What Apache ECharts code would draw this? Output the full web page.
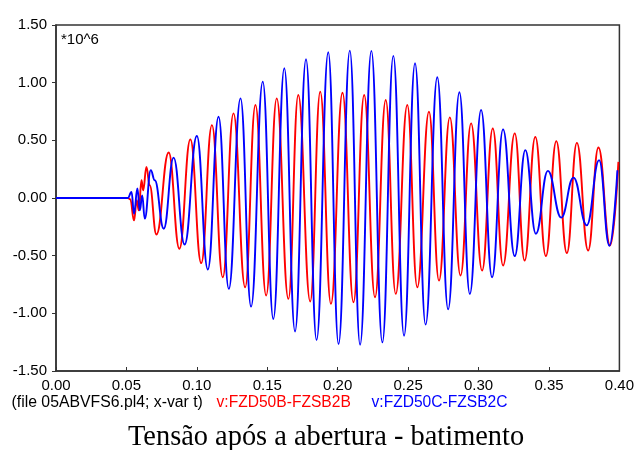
<!DOCTYPE html>
<html>
<head>
<meta charset="utf-8">
<script src="https://cdn.jsdelivr.net/npm/echarts@6/dist/echarts.min.js"></script>
<style>
html,body{margin:0;padding:0;background:#fff;}
#chart{width:637px;height:450px;}
</style>
</head>
<body>
<div id="chart"></div>
<script>
// Time axis ticks (s) and voltage ticks (*10^6 V)
var xTicks = [0.00, 0.05, 0.10, 0.15, 0.20, 0.25, 0.30, 0.35, 0.40];
var yTicks = [-1.50, -1.00, -0.50, 0.00, 0.50, 1.00, 1.50];

// v:FZD50B-FZSB2B (red) — extrema
var redT = [0, 0.0510, 0.0527, 0.0554, 0.0573, 0.0588, 0.0607, 0.0619, 0.0642, 0.0665, 0.0713, 0.0800, 0.0876, 0.0954, 0.1031, 0.1107, 0.1184, 0.1260, 0.1343, 0.1416, 0.1492, 0.1567, 0.1650, 0.1720, 0.1805, 0.1876, 0.1952, 0.2034, 0.2112, 0.2188, 0.2265, 0.2341, 0.2412, 0.2494, 0.2565, 0.2648, 0.2719, 0.2796, 0.2872, 0.2947, 0.3025, 0.3101, 0.3174, 0.3257, 0.3327, 0.3403, 0.3478, 0.3552, 0.3627, 0.3698, 0.3778, 0.3851, 0.3934, 0.3993];
var redV = [0, 0, -0.011, -0.194, -0.020, -0.107, 0.154, 0.067, 0.270, 0.110, -0.316, 0.395, -0.440, 0.508, -0.565, 0.632, -0.687, 0.734, -0.774, 0.806, -0.846, 0.864, -0.875, 0.893, -0.898, 0.922, -0.918, 0.913, -0.904, 0.893, -0.861, 0.850, -0.831, 0.806, -0.774, 0.748, -0.716, 0.699, -0.672, 0.647, -0.629, 0.603, -0.585, 0.560, -0.542, 0.530, -0.504, 0.493, -0.478, 0.478, -0.455, 0.438, -0.411, 0.313];

// v:FZD50C-FZSB2C (blue) — extrema
var blueT = [0, 0.0510, 0.0536, 0.0554, 0.0578, 0.0595, 0.0612, 0.0630, 0.0673, 0.0701, 0.0765, 0.0835, 0.0913, 0.1000, 0.1078, 0.1154, 0.1227, 0.1310, 0.1385, 0.1468, 0.1543, 0.1621, 0.1697, 0.1775, 0.1850, 0.1933, 0.2006, 0.2086, 0.2159, 0.2239, 0.2317, 0.2395, 0.2471, 0.2549, 0.2624, 0.2707, 0.2784, 0.2864, 0.2938, 0.3018, 0.3096, 0.3174, 0.3257, 0.3332, 0.3407, 0.3492, 0.3587, 0.3674, 0.3768, 0.3856, 0.3929, 0.3986];
var blueV = [0, 0, 0.052, -0.136, 0.082, -0.107, 0.023, -0.179, 0.241, 0.154, -0.266, 0.350, -0.403, 0.537, -0.620, 0.704, -0.788, 0.864, -0.942, 1.009, -1.049, 1.125, -1.157, 1.203, -1.231, 1.264, -1.266, 1.278, -1.272, 1.276, -1.252, 1.232, -1.194, 1.169, -1.098, 1.047, -0.966, 0.917, -0.831, 0.763, -0.687, 0.595, -0.504, 0.415, -0.310, 0.235, -0.170, 0.177, -0.237, 0.328, -0.414, 0.241];

var seriesNames = ['v:FZD50B-FZSB2B', 'v:FZD50C-FZSB2C'];
var footerText = '(file 05ABVFS6.pl4; x-var t)';
var titleText = 'Tensão após a abertura - batimento';
var scaleText = '*10^6';

function zip(a, b) { return a.map(function (t, i) { return [t, b[i]]; }); }

var chart = echarts.init(document.getElementById('chart'), null, {renderer: 'canvas'});
var sans = 'Liberation Sans, Arial, sans-serif';
function txt(x, y, s, color, font) {
  return {type: 'text', x: x, y: y, style: {text: s, fill: color, font: font, textVerticalAlign: 'middle', textAlign: 'left'}};
}
chart.setOption({
  animation: false,
  backgroundColor: '#ffffff',
  grid: {left: 56, right: 16, top: 25, bottom: 79, show: true, borderColor: '#333', borderWidth: 1.5, backgroundColor: 'transparent'},
  xAxis: {
    type: 'value', min: xTicks[0], max: xTicks[xTicks.length - 1], interval: 0.05,
    axisLine: {show: true, onZero: false, lineStyle: {color: '#333', width: 1.5}},
    axisTick: {show: true, inside: true, length: 4, lineStyle: {color: '#333'}},
    splitLine: {show: false},
    axisLabel: {color: '#000', fontFamily: sans, fontSize: 15, margin: 7, formatter: function (v) { return v.toFixed(2); }}
  },
  yAxis: {
    type: 'value', min: yTicks[0], max: yTicks[yTicks.length - 1], interval: 0.5,
    axisLine: {show: true, lineStyle: {color: '#333', width: 1.5}},
    axisTick: {show: true, inside: false, length: 4, lineStyle: {color: '#333'}},
    splitLine: {show: false},
    axisLabel: {color: '#000', fontFamily: sans, fontSize: 15, margin: 9, formatter: function (v) { return v.toFixed(2); }}
  },
  series: [
    {name: seriesNames[0], type: 'line', data: zip(redT, redV), showSymbol: false, smooth: 0.45, smoothMonotone: 'x',
     lineStyle: {color: '#ff0000', width: 1.9}, itemStyle: {color: '#ff0000'}},
    {name: seriesNames[1], type: 'line', data: zip(blueT, blueV), showSymbol: false, smooth: 0.45, smoothMonotone: 'x',
     lineStyle: {color: '#0000ff', width: 1.9}, itemStyle: {color: '#0000ff'}}
  ],
  graphic: [
    txt(61, 40, scaleText, '#000', '15px ' + sans),
    txt(11.5, 403, footerText, '#000', '15.8px ' + sans),
    txt(216.5, 403, seriesNames[0], '#ff0000', '15.6px ' + sans),
    txt(371.5, 403, seriesNames[1], '#0000ff', '15.6px ' + sans),
    txt(128, 438, titleText, '#000', '28.4px Liberation Serif, Times New Roman, serif')
  ]
});
</script>
</body>
</html>
